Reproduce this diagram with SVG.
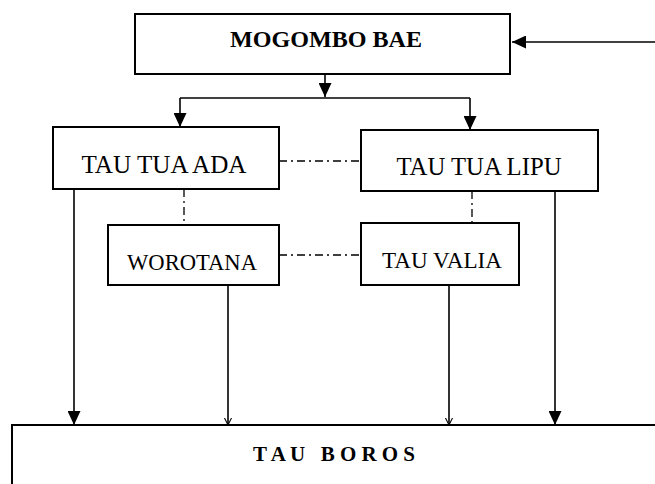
<svg xmlns="http://www.w3.org/2000/svg" width="655" height="484" viewBox="0 0 655 484">
<defs>
<style>
.box{fill:#fff;stroke:#000;stroke-width:2}
.t{font-family:"Liberation Serif","Times New Roman",serif;fill:#000;text-anchor:middle}
.b{font-weight:bold}
.ln{fill:none;stroke:#000;stroke-width:1.6}
.dd{fill:none;stroke:#000;stroke-width:1.3;stroke-dasharray:8 4 2 4}
</style>
<marker id="big" viewBox="0 0 14 13" refX="14" refY="6.5" markerWidth="14" markerHeight="13" markerUnits="userSpaceOnUse" orient="auto">
<path d="M0,0 L14,6.5 L0,13 Z" fill="#000"/>
</marker>
<marker id="open" viewBox="0 0 10 10" refX="9" refY="5" markerWidth="8" markerHeight="9" markerUnits="userSpaceOnUse" orient="auto">
<path d="M0,0.5 L9,5 L0,9.5" fill="none" stroke="#000" stroke-width="1.3"/>
</marker>
</defs>
<rect width="655" height="484" fill="#fff"/>
<g id="connectors">
<line class="ln" x1="655" y1="42" x2="512" y2="42" marker-end="url(#big)"/>
<line class="ln" x1="325" y1="74" x2="325" y2="97" marker-end="url(#big)"/>
<line class="ln" x1="180" y1="98" x2="470" y2="98"/>
<line class="ln" x1="180" y1="98" x2="180" y2="127" marker-end="url(#big)"/>
<line class="ln" x1="470" y1="98" x2="470" y2="130" marker-end="url(#big)"/>
<line class="dd" x1="279" y1="161" x2="361" y2="161"/>
<line class="dd" x1="184" y1="189" x2="184" y2="225"/>
<line class="dd" x1="472" y1="191" x2="472" y2="223"/>
<line class="dd" x1="279" y1="255" x2="361" y2="255"/>
<line class="ln" x1="74" y1="189" x2="74" y2="425" marker-end="url(#big)"/>
<line class="ln" x1="555" y1="191" x2="555" y2="425" marker-end="url(#big)"/>
<line class="ln" x1="228" y1="285" x2="228" y2="425" marker-end="url(#open)"/>
<line class="ln" x1="449" y1="285" x2="449" y2="425" marker-end="url(#open)"/>
</g>
<g id="mogombo-bae">
<rect class="box" x="135" y="14" width="375" height="60"/>
<text class="t b" x="326" y="47" font-size="24" textLength="192" lengthAdjust="spacingAndGlyphs">MOGOMBO BAE</text>
</g>
<g id="tau-tua-ada">
<rect class="box" x="53" y="127" width="226" height="62"/>
<text class="t" x="164" y="173" font-size="25" textLength="165" lengthAdjust="spacingAndGlyphs">TAU TUA ADA</text>
</g>
<g id="tau-tua-lipu">
<rect class="box" x="361" y="130" width="237" height="61"/>
<text class="t" x="479" y="175" font-size="25" textLength="165" lengthAdjust="spacingAndGlyphs">TAU TUA LIPU</text>
</g>
<g id="worotana">
<rect class="box" x="108" y="225" width="171" height="60"/>
<text class="t" x="192" y="270" font-size="24" textLength="130" lengthAdjust="spacingAndGlyphs">WOROTANA</text>
</g>
<g id="tau-valia">
<rect class="box" x="361" y="223" width="158" height="62"/>
<text class="t" x="442" y="268" font-size="24" textLength="120" lengthAdjust="spacingAndGlyphs">TAU VALIA</text>
</g>
<g id="tau-boros">
<rect class="box" x="12" y="425" width="660" height="80"/>
<text class="t b" x="334" y="461" font-size="21" textLength="162" lengthAdjust="spacing">T A U&#160;&#160; B O R O S</text>
</g>
</svg>
